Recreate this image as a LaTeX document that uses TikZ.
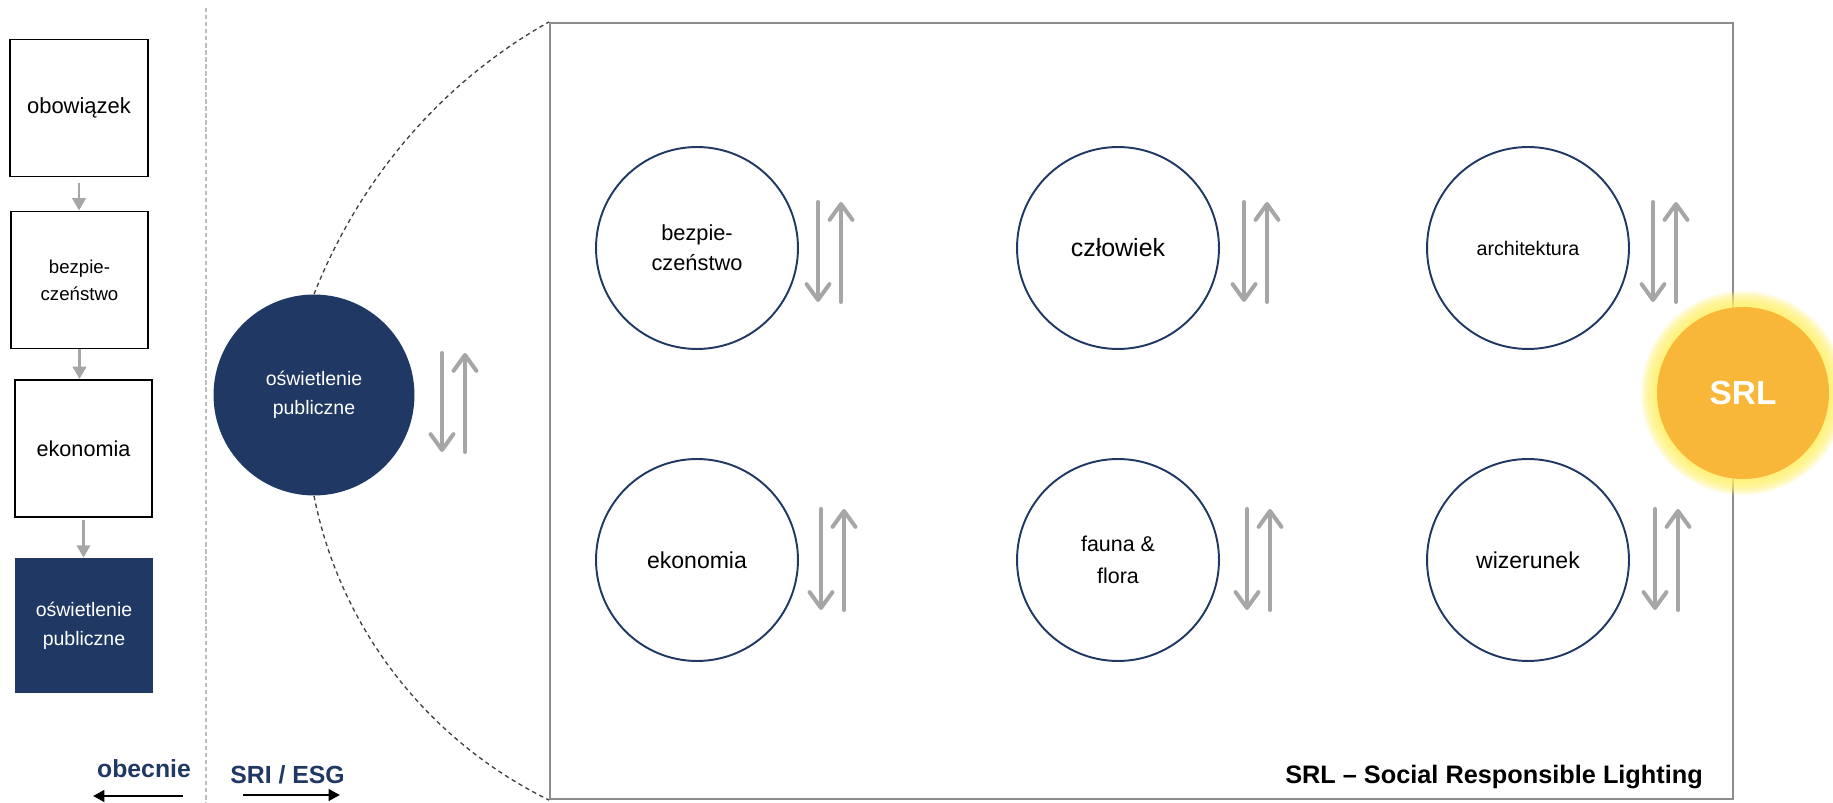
\documentclass[tikz,border=0pt]{standalone}
\usepackage{fontspec}
\setmainfont{Liberation Sans}
\usetikzlibrary{arrows.meta,calc}
\definecolor{navy}{HTML}{203864}
\definecolor{arrgray}{HTML}{A6A6A6}
\definecolor{boxgray}{HTML}{8C8C8C}
\definecolor{sepgray}{HTML}{BDBDBD}
\definecolor{srlorange}{HTML}{F9B73A}
\definecolor{glowyellow}{HTML}{FFF06A}
\begin{document}
\begin{tikzpicture}[x=0.02cm,y=-0.02cm,
  sqbox/.style={draw=black,line width=1.1pt,minimum width=2.75cm,minimum height=2.74cm,inner sep=0pt,align=center},
  sqfill/.style={fill=navy,draw=none,minimum width=2.76cm,minimum height=2.70cm,inner sep=0pt,align=center,text=white},
  ring/.style={circle,draw=navy,line width=1.1pt,minimum size=4.04cm,inner sep=0pt,align=center},
  downchain/.style={draw=arrgray,line width=1.7pt,-{Triangle[length=7pt,width=7.5pt]}},
  dual/.style={draw=arrgray,line width=2.3pt,line cap=round,-{Straight Barb[length=9pt,width=13pt,round]}},
  timearrow/.style={draw=black,line width=1.7pt,-{Triangle[length=6.5pt,width=6.5pt]}},
  arcline/.style={draw=black!75,line width=0.75pt,dash pattern=on 2.5pt off 2pt}
]
\useasboundingbox (0,0) rectangle (1833,803);

% separator
\draw[sepgray,line width=0.6pt,dash pattern=on 2.5pt off 1.5pt] (206,8) -- (206,803);

% left column
\node[sqbox,font=\fontsize{12.5pt}{15pt}\selectfont] (b1) at (79,108) {obowiązek};
\node[sqbox,font=\fontsize{10.6pt}{15.3pt}\selectfont] (b2) at (79.5,280) {bezpie-\\czeństwo};
\node[sqbox,font=\fontsize{12.3pt}{15pt}\selectfont] (b3) at (83.5,448.5) {ekonomia};
\node[sqfill,font=\fontsize{11.1pt}{16.4pt}\selectfont] (b4) at (84,625.5) {oświetlenie\\publiczne};
\draw[downchain,shorten <=3pt] (b1.south) -- (b1.south |- b2.north);
\draw[downchain] (b2.south) -- (b2.south |- b3.north);
\draw[downchain,shorten <=1pt] (b3.south) -- (b3.south |- b4.north);

% time labels
\node[anchor=base,text=navy,font=\bfseries\fontsize{14.1pt}{17pt}\selectfont] (now) at (144,777) {obecnie};
\node[anchor=base,text=navy,font=\bfseries\fontsize{14.1pt}{17pt}\selectfont] (sri) at (287.5,783) {SRI / ESG};
\coordinate (now1) at (183,796);
\coordinate (now2) at (93,796);
\coordinate (sri1) at (243,795);
\coordinate (sri2) at (340,795);
\draw[timearrow] (now1) -- (now2);
\draw[timearrow] (sri1) -- (sri2);

% big frame
\node[draw=boxgray,line width=1.3pt,minimum width=23.66cm,minimum height=15.52cm,inner sep=0pt] (frame) at (1141.5,411) {};

% public lighting circle
\node[circle,fill=navy,minimum size=4.02cm,inner sep=0pt,align=center,text=white,font=\fontsize{11.1pt}{16.4pt}\selectfont] (op) at (314,395) {oświetlenie\\publiczne};
\draw[arcline] (op.north) .. controls (360,178) and (442,82) .. (frame.north west);
\draw[arcline] (op.south) .. controls (340,628) and (427,740) .. (frame.south west);
\draw[dual] ($(op)+(128,-42)$) -- ($(op)+(128,57)$);
\draw[dual] ($(op)+(151,57)$) -- ($(op)+(151,-42)$);

% circles
\node[ring,font=\fontsize{12.4pt}{17pt}\selectfont] (c1) at (697,248) {bezpie-\\czeństwo};
\node[ring,font=\fontsize{14.2pt}{17pt}\selectfont] (c2) at (1118,248) {człowiek};
\node[ring,font=\fontsize{11.2pt}{14pt}\selectfont] (c3) at (1528,248) {architektura};
\node[ring,font=\fontsize{13.1pt}{16pt}\selectfont] (c4) at (697,560) {ekonomia};
\node[ring,font=\fontsize{12.2pt}{18pt}\selectfont] (c5) at (1118,560) {fauna \&\\flora};
\node[ring,font=\fontsize{13.1pt}{16pt}\selectfont] (c6) at (1528,560) {wizerunek};

\foreach \c/\dx in {c1/121,c2/126,c3/125}{
  \draw[dual] ($(\c)+(\dx,-46)$) -- ($(\c)+(\dx,54)$);
  \draw[dual] ($(\c)+(\dx+23,54)$) -- ($(\c)+(\dx+23,-46)$);
}
\foreach \c/\dx in {c4/124,c5/129,c6/127}{
  \draw[dual] ($(\c)+(\dx,-51)$) -- ($(\c)+(\dx,50)$);
  \draw[dual] ($(\c)+(\dx+23,50)$) -- ($(\c)+(\dx+23,-51)$);
}

% SRL glow and circle
\coordinate (srlc) at (1743,393);
\foreach \r in {2.04,2.01,1.98,1.95,1.92,1.89,1.86,1.83,1.80,1.77,1.74}{
  \fill[glowyellow,opacity=0.17] (srlc) circle[radius=\r cm];
}
\node[circle,fill=srlorange,minimum size=3.44cm,inner sep=0pt,text=white,font=\bfseries\fontsize{19pt}{22pt}\selectfont] (srl) at (srlc) {SRL};

% title
\node[anchor=base,font=\bfseries\fontsize{14.4pt}{17pt}\selectfont] (title) at (1494,783) {SRL – Social Responsible Lighting};
\end{tikzpicture}
\end{document}
